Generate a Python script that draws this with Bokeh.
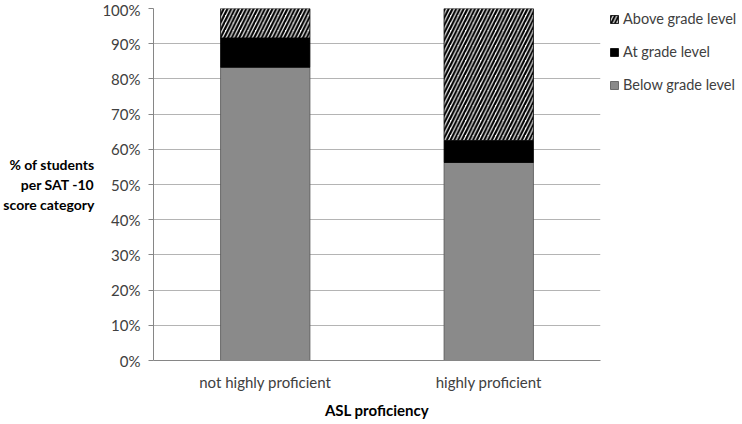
from bokeh.plotting import figure
from bokeh.models import (ColumnDataSource, FactorRange, Range1d, Legend, LegendItem,
                          SingleIntervalTicker, PrintfTickFormatter)
from bokeh.embed import file_html
from bokeh.resources import INLINE

categories = ["not highly proficient", "highly proficient"]
below = [83.3, 56.25]
at = [8.35, 6.25]
above = [8.35, 37.5]
series = ["below", "at", "above"]
legend_labels = ["Below grade level", "At grade level", "Above grade level"]

FONT = "Lato"

src = ColumnDataSource(dict(cat=categories, below=below, at=at, above=above))

p = figure(frame_width=447, frame_height=352, x_range=FactorRange(*categories), y_range=Range1d(0, 100),
           output_backend="svg", toolbar_location=None,
           min_border_left=4, min_border_top=8, min_border_bottom=2, min_border_right=0)
p.x_range.range_padding = 0
p.outline_line_color = None

rs = p.vbar_stack(series, x="cat", width=0.4, source=src,
                  fill_color=["#8a8a8a", "black", "white"],
                  line_color=["#555555", "black", "black"], line_width=0.8,
                  hatch_pattern=[" ", " ", "/"], hatch_color="black",
                  hatch_scale=7.5, hatch_weight=2.2)

legend = Legend(items=[LegendItem(label=legend_labels[2], renderers=[rs[2]]),
                       LegendItem(label=legend_labels[1], renderers=[rs[1]]),
                       LegendItem(label=legend_labels[0], renderers=[rs[0]])],
                location=(9, 267),
                border_line_color=None, background_fill_alpha=0,
                glyph_width=10, glyph_height=10, spacing=16, padding=0, margin=0,
                label_text_font=FONT, label_text_font_size="14.5px", label_text_color="#404040",
                label_standoff=4)
p.add_layout(legend, "right")

p.yaxis.ticker = SingleIntervalTicker(interval=10)
p.yaxis.formatter = PrintfTickFormatter(format="%d%%")
p.ygrid.grid_line_color = "#b4b4b4"
p.xgrid.grid_line_color = None
for ax in (p.xaxis, p.yaxis):
    ax.axis_line_color = "#868686"
    ax.major_label_text_font = FONT
    ax.major_label_text_font_size = "15px"
    ax.major_label_text_color = "#404040"
    ax.minor_tick_line_color = None
p.yaxis.major_tick_line_color = "#868686"
p.yaxis.major_tick_out = 5
p.yaxis.major_tick_in = 0
p.yaxis.major_label_standoff = 8
p.xaxis.major_tick_line_color = None
p.xaxis.major_label_standoff = 6

p.xaxis.axis_label = "ASL proficiency"
p.xaxis.axis_label_text_font = FONT
p.xaxis.axis_label_text_font_size = "15px"
p.xaxis.axis_label_text_font_style = "bold"
p.xaxis.axis_label_text_color = "black"
p.xaxis.axis_label_standoff = 7

p.yaxis.axis_label = "% of students\nper SAT -10\nscore category"
p.yaxis.axis_label_orientation = "horizontal"
p.yaxis.axis_label_text_font = FONT
p.yaxis.axis_label_text_font_size = "14px"
p.yaxis.axis_label_text_font_style = "bold"
p.yaxis.axis_label_text_color = "black"
p.yaxis.axis_label_text_align = "center"
p.yaxis.axis_label_standoff = 5

open("out.html", "w").write(file_html(p, INLINE))
